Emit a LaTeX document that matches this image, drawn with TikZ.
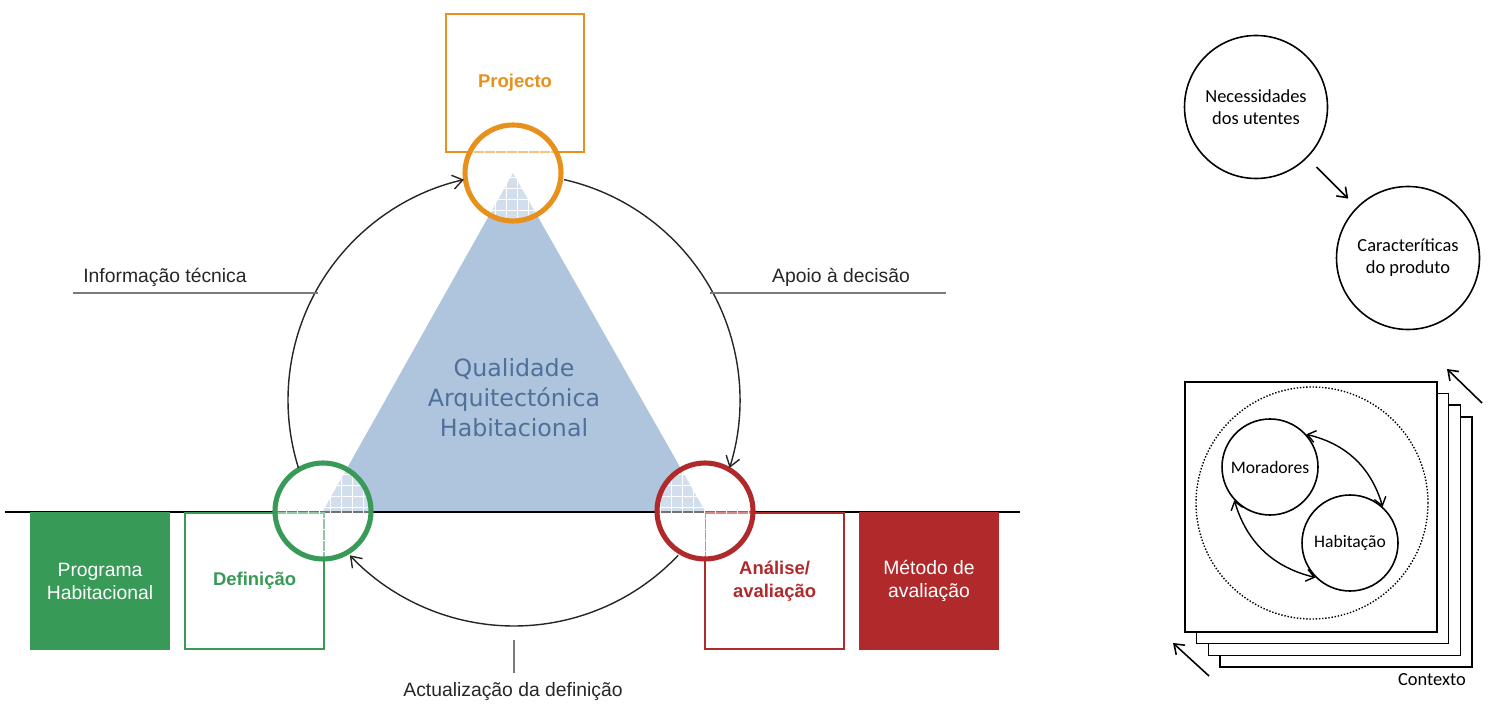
\documentclass[tikz,border=0pt]{standalone}
\usepackage{fontspec}
\setmainfont{Liberation Sans}
\newfontfamily\qualfont{DejaVu Sans}
\newfontfamily\sidefont{Carlito}
\usetikzlibrary{arrows.meta,positioning}

\definecolor{projorange}{HTML}{E8901C}
\definecolor{defgreen}{HTML}{379A56}
\definecolor{avalred}{HTML}{B02A2C}
\definecolor{triblue}{HTML}{AFC4DD}
\definecolor{qualblue}{HTML}{4F709B}
\definecolor{labgray}{HTML}{7A7A7A}

\begin{document}
\begin{tikzpicture}[
			x=0.2mm, y=0.2mm,
			box/.style={
				rectangle,
				draw,
				line width=1.2pt,
				minimum width=27.6mm,
				minimum height=27.2mm,
				inner sep=0pt,
				align=center,
				anchor=north west,
				font=\fontsize{11}{13}\selectfont
			},
			ring/.style={
				circle,
				draw,
				line width=2.9pt,
				minimum size=19.2mm,
				inner sep=0pt,
				fill=white,
				fill opacity=0.45
			},
			gridline/.style={
				white,
				line width=0.5pt,
				step=2.2mm
			},
			cyc/.style={
				-{Straight Barb[length=2mm,width=2.8mm]},
				line width=0.8pt,
				draw=black!85
			},
			lab/.style={
				font=\fontsize{11}{13}\selectfont,
				text=black!85
			},
			labline/.style={
				line width=1.1pt,
				draw=labgray
			},
			sidecirc/.style={
				circle,
				draw,
				line width=0.9pt,
				minimum size=28.6mm,
				inner sep=0pt,
				align=center,
				font=\sidefont\fontsize{10.5}{12.5}\selectfont
			},
			sidearrow/.style={
				-{Straight Barb[length=1.8mm,width=2.6mm]},
				line width=0.9pt
			}
			]
			\useasboundingbox (0,0) rectangle (1493,705);
			
			% cycle centres
			\coordinate (ciclo) at (514,305);
			\coordinate (projc) at (513,532);
			\coordinate (defc) at (323,194);
			\coordinate (avalc) at (705,194);
			
			\fill[triblue] (projc) -- (defc) -- (avalc) -- cycle;
			\draw[line width=1.1pt] (5,193) -- (1020,193);
			
			% boxes
			\node[box, draw=defgreen, fill=defgreen, text=white] (prog) at (30,193) {Programa\\Habitacional};
			\node[box, draw=defgreen, text=defgreen, font=\fontsize{10.5}{13}\selectfont\bfseries, minimum width=27.8mm] (def) at (184,193) {Definição};
			\node[box, draw=avalred, text=avalred, font=\fontsize{10.5}{13}\selectfont\bfseries, minimum width=27.8mm] (anal) at (704,193) {Análise/\\avaliação};
			\node[box, draw=avalred, fill=avalred, text=white] (metodo) at (859,193) {Método de\\avaliação};
			\node[box, draw=projorange, text=projorange, font=\fontsize{10.5}{13}\selectfont\bfseries, minimum height=27.6mm] (proj) at (445,692) {Projecto};
			
			\node[ring, draw=projorange] (projring) at (projc) {};
			\node[ring, draw=defgreen] (defring) at (defc) {};
			\node[ring, draw=avalred] (avalring) at (avalc) {};
			\foreach \c in {projc,defc,avalc}{
				\begin{scope}
					\clip (\c) circle (45);
					\draw[gridline] ([shift={(-60,-60)}]\c) grid ([shift={(60,60)}]\c);
				\end{scope}
			}
			
			\node[font=\qualfont\fontsize{13.5}{17}\selectfont, text=qualblue, align=center] (qual) at (514,307) {Qualidade\\Arquitectónica\\Habitacional};
			
			% cycle arcs
			\draw[cyc] ([shift={(197.5:226)}]ciclo) arc[start angle=197.5, end angle=102.8, radius=226];
			\draw[cyc] ([shift={(77.2:226)}]ciclo) arc[start angle=77.2, end angle=-17.5, radius=226];
			\draw[cyc] ([shift={(-43.4:226)}]ciclo) arc[start angle=-43.4, end angle=-136.6, radius=226];
			
			% labels
			\node[lab] (info) at (165,428) {Informação técnica};
			\coordinate (infoa) at (73,412);
			\coordinate (infob) at (318,412);
			\draw[labline] (infoa) -- (infob);
			\node[lab] (apoio) at (841,428) {Apoio à decisão};
			\coordinate (apoioa) at (710,412);
			\coordinate (apoiob) at (946,412);
			\draw[labline] (apoioa) -- (apoiob);
			\node[lab] (actual) at (513,13) {Actualização da definição};
			\coordinate (actuala) at (514,65);
			\coordinate (actualb) at (514,32);
			\draw[labline] (actuala) -- (actualb);
			
			% right: needs and product
			\node[sidecirc] (necess) at (1256,598) {Necessidades\\dos utentes};
			\node[sidecirc] (caract) at (1408,447) {Caracteríticas\\do produto};
			\draw[sidearrow, shorten <=2.6mm, shorten >=2.4mm] (necess) -- (caract);
			
			% right: context
			\foreach \k in {3,2,1,0}{
				\draw[line width=0.8pt, fill=white] (1185+11.6*\k,73-11.6*\k) rectangle ++(252,250);
			}
			\node[circle, draw, densely dotted, line width=0.8pt, minimum size=46.4mm] (ambito) at (1312,202) {};
			\node[sidecirc, minimum size=19.2mm, font=\sidefont\fontsize{10}{12}\selectfont] (morad) at (1270,238) {Moradores};
			\node[sidecirc, minimum size=19.2mm, font=\sidefont\fontsize{10}{12}\selectfont] (habit) at (1350,162) {Habitação};
			\draw[{Straight Barb[length=1.6mm,width=2.4mm]}-{Straight Barb[length=1.6mm,width=2.4mm]}, line width=0.8pt] (morad.42) to[bend left=30] (habit.48);
			\draw[{Straight Barb[length=1.6mm,width=2.4mm]}-{Straight Barb[length=1.6mm,width=2.4mm]}, line width=0.8pt] (morad.223) to[bend right=30] (habit.225);
			\coordinate (ctxa) at (1482,302);
			\coordinate (ctxb) at (1447,336);
			\coordinate (ctxc) at (1209,29);
			\coordinate (ctxd) at (1173,62);
			\draw[sidearrow] (ctxa) -- (ctxb);
			\draw[sidearrow] (ctxc) -- (ctxd);
			\node[font=\sidefont\fontsize{10.5}{12.5}\selectfont] (contexto) at (1432,25) {Contexto};
		\end{tikzpicture}
\end{document}
